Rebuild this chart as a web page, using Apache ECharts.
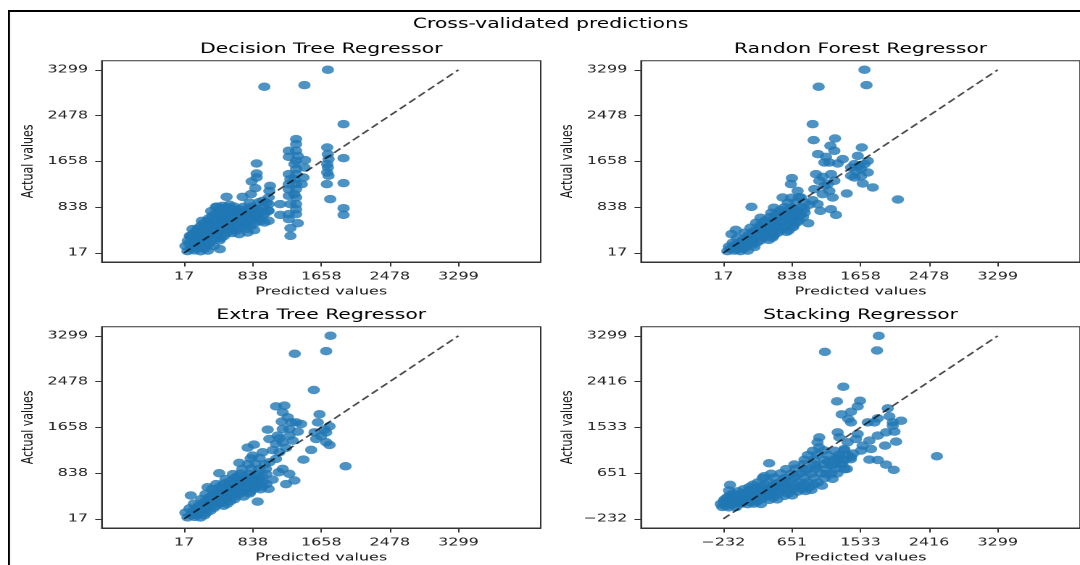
<!DOCTYPE html>
<html>
<head>
<meta charset="utf-8">
<script src="https://cdn.jsdelivr.net/npm/echarts@6/dist/echarts.min.js"></script>
<style>
html,body{margin:0;padding:0;background:#fff;overflow:hidden;width:1080px;height:565px;}
#chart{width:745px;height:565px;transform:scaleX(1.449664);transform-origin:0 0;}
</style>
</head>
<body>
<div id="chart"></div>
<script>
// ---------- text ----------
const suptitle = 'Cross-validated predictions';
const panelTitles = ['Decision Tree Regressor', 'Randon Forest Regressor', 'Extra Tree Regressor', 'Stacking Regressor'];
const xAxisName = 'Predicted values';
const yAxisName = 'Actual values';

// ---------- tick labels & axis limits ----------
const ticksCommon = [17, 838, 1658, 2478, 3299];
const ticksStacking = [-232, 651, 1533, 2416, 3299];
const xLimCommon = [-968, 4284];
const yLimCommon = [-147, 3463];
const xLimStacking = [-1291, 4358];
const yLimStacking = [-409, 3476];
const diagCommon = [17, 3299];
const diagStacking = [-232, 3299];

// ---------- data: [predicted, actual] ----------
const decisionTree = [
[1737,3300],[977,2995],[1457,3025],[1925,2325],[1925,1715],[1925,1267],[1925,818],[1925,699],
[1729,1907],[1737,1787],[1745,1697],[1729,1608],[1737,1548],[1729,1458],[1745,1399],[1725,1249],[1765,980],
[1357,2056],[1357,1967],[1357,1847],[1377,1757],[1357,1667],[1337,1608],[1357,1518],[1357,1428],[1337,1339],[1357,1249],[1357,1159],[1337,1070],[1357,1010],[1357,890],[1357,800],[1357,711],[1377,549],
[1269,1847],[1269,1739],[1269,1428],[1289,1339],[1269,1249],[1269,1159],[1269,1040],[1289,890],[1269,711],[1269,621],[1289,460],[1289,322],
[1165,890],[1165,699],[1465,1679],[1457,1548],[1445,1369],[1425,1249],
[885,1620],[885,1440],[885,1369],[825,1297],[869,1177],
[1045,1219],[1037,1129],[1029,1010],[1029,890],[1029,771],[1029,591],[957,950],
[525,1022],[717,1022],[817,1070],[229,591],[117,442],[85,322],[397,842],[477,860],[445,83],[677,352],[857,424],[977,561],[777,382],
[57,48],[139,61],[214,45],[301,58],
[33,140],[121,151],[196,133],[281,147],[372,139],
[62,236],[152,225],[241,238],[333,229],[441,241],
[95,318],[201,329],[292,315],[404,326],[493,318],
[161,405],[254,419],[362,408],[451,416],[560,404],[641,419],
[213,497],[322,508],[411,495],[521,506],[612,498],[722,509],[813,496],
[301,588],[392,597],[502,584],[591,595],[703,588],[792,598],[921,586],
[352,677],[461,688],[553,674],[662,685],[751,678],[861,689],[952,676],
[341,766],[433,777],[541,764],[632,775],[741,768],[833,779],[941,765],[1021,774],
[413,846],[522,837],[613,848],[721,839],[833,846],[961,838],
[801,917],[912,925],[1001,914],
[255,270],[455,280],[600,455],[770,550],[870,640],[680,720],[560,880],[470,620],
[97,95],[177,100],[257,92],
[77,190],[160,182],[240,193],[320,185],
[110,280],[200,272],[290,283],[385,275],
[130,365],[210,372],[305,362],[405,370],[505,364],[590,372],
[180,452],[270,460],[365,450],[465,458],[565,452],[665,461],[765,450],
[250,544],[350,552],[450,542],[550,550],[650,543],[750,551],[860,545],
[310,632],[410,640],[510,630],[610,638],[710,632],[810,640],[910,633],
[390,722],[490,730],[590,720],[690,728],[790,722],[890,730],[985,724],
[470,802],[570,810],[670,800],[780,808],[890,802]
];

const randomForest = [
[1705,3300],[1157,2995],[1729,3025],[1085,2325],[1097,2038],[1353,2068],[1297,1937],[1345,1847],[1149,1787],
[1245,1739],[1285,1637],[1385,1620],[1445,1697],[1225,1637],
[1673,1907],[1625,1757],[1745,1667],[1645,1578],[1745,1458],[1585,1369],[1685,1261],[1805,1189],[1545,1548],[1585,1608],[1705,1608],[1665,1518],
[1493,1081],[2105,974],[1365,699],[1305,800],[1177,770],[1145,890],
[1125,1428],[1165,1309],[1225,1219],[1305,1428],[1345,1309],[1285,1129],[1205,1070],[1325,1010],
[1033,549],[837,1357],[825,1249],[353,842],[165,430],[113,352],[773,394],[617,322],[985,800],[945,1010],[725,1010],[905,1129],
[65,49],[148,58],[221,47],[309,56],
[82,129],[188,121],[281,131],[389,122],
[128,198],[221,207],[329,196],[421,205],
[181,288],[309,297],[401,286],[509,295],[601,289],
[268,378],[361,387],[469,376],[561,386],[669,379],
[341,467],[449,476],[541,465],[649,474],[741,468],[849,477],
[409,557],[501,566],[609,555],[701,564],[809,558],[901,567],
[461,647],[569,656],[661,645],[769,654],[861,648],[969,657],
[589,737],[681,746],[789,735],[881,744],[989,738],
[621,826],[749,835],[841,824],[949,833],
[789,917],[881,925],[989,916],
[829,1006],[921,1014],
[1045,880],[1085,960],[1105,1160],[1205,1380],[1265,1250],[1545,1400],[1665,1390],[1605,1480],
[100,90],[185,85],[265,95],[160,165],[270,160],[370,168],[250,245],[360,250],[460,242],[560,250],
[320,335],[420,340],[520,332],[620,338],[400,420],[500,425],[600,418],[700,426],[800,420],
[460,512],[560,518],[660,510],[760,516],[860,511],[520,600],[620,606],[720,598],[820,604],[920,600],
[640,695],[740,700],[840,692],[940,698],[700,785],[800,790],[900,782]
];

const extraTree = [
[1769,3300],[1341,2978],[1717,3026],[1569,2327],[1117,2035],[1217,2047],[1197,1927],[1257,1838],[1297,1748],
[1185,1760],[1357,1748],[1417,1718],[1277,1629],[1197,1629],[1377,1581],
[1637,1892],[1617,1748],[1757,1677],[1717,1569],[1577,1569],[1597,1450],[1717,1390],[1757,1342],[1537,1253],
[1445,1080],[1949,960],[1337,704],[1277,823],[1149,853],[1197,913],[1029,554],[897,327],[1017,1617],[1037,1450],[853,1348],[777,1295],[957,1211],[837,1151],[677,1020],[437,835],[297,584],[97,435],
[1117,1360],[1197,1390],[1277,1510],[1137,1510],[1157,1211],[1117,1092],[1037,1032],[997,913],
[57,43],[141,52],[213,41],
[33,128],[121,119],[193,129],[281,121],
[81,204],[173,213],[281,203],[373,212],
[133,288],[241,297],[333,287],[441,296],[533,289],
[221,371],[313,380],[421,370],[513,379],[621,372],
[273,461],[381,470],[473,460],[581,469],[673,462],[801,471],
[353,550],[461,559],[553,549],[661,558],[753,551],[861,560],[933,549],
[401,640],[493,649],[601,639],[693,648],[801,641],[893,650],[1001,639],
[513,729],[621,738],[713,728],[821,737],[913,730],
[601,819],[693,828],[801,818],[893,827],[1001,820],
[713,909],[821,918],[913,908],
[781,998],[873,1007],[981,997],
[813,1100],[921,1109],
[1077,1250],[1237,1290],[1157,1460],[1317,1420],[1657,1500],[1697,1620],[1077,720],[1237,640],
[100,85],[180,90],[260,82],[130,165],[230,170],[330,162],[190,250],[290,255],[390,248],[490,253],
[270,333],[370,338],[470,330],[570,336],[330,418],[430,423],[530,415],[630,421],[730,417],
[410,505],[510,510],[610,502],[710,508],[810,504],[450,595],[550,600],[650,592],[750,598],[850,594],[950,600],
[560,685],[660,690],[760,682],[860,688],[960,684],[650,775],[750,780],[850,772],[950,778]
];

const stacking = [
[1768,3299],[1075,2991],[1746,3017],[1312,2317],[1230,2034],[1527,2047],[1497,1938],
[1411,1835],[1290,1784],[1376,1694],[1411,1630],
[1884,1899],[1905,1745],[1755,1707],[1712,1630],[1626,1630],
[2056,1662],[1948,1566],[1970,1450],[1862,1437],[1991,1258],[1849,1180],[1948,1630],
[1755,1373],[1647,1277],[1669,1116],[1540,1084],[1475,1309],[1497,1405],
[2516,975],[1647,911],[1755,904],[1862,814],[1961,712],
[1239,1437],[1260,1341],[1368,1245],[1325,1116],
[1002,1341],[980,1245],[1002,1148],
[357,840],[293,590],[-146,423],[-159,314],[1037,410],[903,327],[1359,731],[1239,924],[1282,827],[1411,956],[1153,795],[1088,635],[1174,538],
[-245,-3],[-162,-12],[-70,-5],
[-266,53],[-177,61],[-97,52],[-5,60],[81,51],[161,62],[253,54],
[-220,136],[-140,145],[-48,135],[53,144],[145,136],[247,146],[360,135],[462,143],
[-156,213],[-54,222],[81,212],[204,221],[317,213],[419,223],[554,212],[655,221],
[-48,297],[96,306],[231,296],[354,305],[468,298],[591,307],[726,296],[827,305],
[102,380],[247,389],[382,379],[505,388],[640,381],[763,390],[876,379],
[210,470],[354,479],[489,469],[612,478],[747,471],[849,480],[984,469],
[274,554],[419,563],[554,553],[677,562],[812,555],[935,564],[1070,553],
[382,637],[505,646],[640,636],[763,645],[898,638],[1021,647],[1156,636],[1236,645],
[575,727],[698,736],[833,726],[956,735],[1091,728],[1214,737],[1328,726],
[683,817],[806,826],[941,816],[1064,825],[1199,818],[1300,827],
[812,907],[935,916],[1070,906],[1193,915],[1328,908],[1408,917],
[855,997],[978,1006],[1113,996],[1257,1005],[1371,998],
[919,1080],[1064,1089],[1199,1079],[1322,1088],
[-200,20],[-110,100],[30,180],[150,260],[300,340],[440,430],[560,510],[700,600],[830,690],[960,780],[1120,870],[1260,960],[1440,1030],[1560,1180],
[-230,95],[-140,100],[-50,92],[40,100],[120,95],[200,102],
[-190,175],[-100,182],[0,176],[100,180],[200,175],[300,183],[410,177],
[-110,255],[20,262],[140,256],[260,261],[370,254],[490,263],[600,257],
[30,340],[170,346],[290,338],[420,345],[530,340],[660,347],[780,341],
[150,425],[300,433],[430,426],[560,432],[690,427],[810,434],[930,428]
];

// ---------- build ----------
const FONT = 'DejaVu Sans';
const panels = [
  {data: decisionTree, ticks: ticksCommon, xLim: xLimCommon, yLim: yLimCommon, diag: diagCommon},
  {data: randomForest, ticks: ticksCommon, xLim: xLimCommon, yLim: yLimCommon, diag: diagCommon},
  {data: extraTree, ticks: ticksCommon, xLim: xLimCommon, yLim: yLimCommon, diag: diagCommon},
  {data: stacking, ticks: ticksStacking, xLim: xLimStacking, yLim: yLimStacking, diag: diagStacking}
];
const gridLefts = [70.2, 442.2];
const gridTops = [60.7, 326.7];
const gridW = 302.8, gridH = 201.3;

const fmt = v => (v < 0 ? '\u2212' + Math.abs(v) : String(v));

const grids = [], xAxes = [], yAxes = [], series = [], graphics = [];
panels.forEach((p, i) => {
  const col = i % 2, row = Math.floor(i / 2);
  grids.push({left: gridLefts[col], top: gridTops[row], width: gridW, height: gridH,
    show: true, borderColor: '#333', borderWidth: 1, backgroundColor: '#fff', outerBoundsMode: 'none'});
  const common = {
    type: 'value', gridIndex: i,
    nameLocation: 'middle',
    nameTextStyle: {fontSize: 11, fontFamily: FONT, color: '#111'},
    axisLine: {show: true, onZero: false, lineStyle: {color: '#333', width: 1}},
    axisTick: {show: true, length: 4.5, customValues: p.ticks, lineStyle: {color: '#333'}},
    axisLabel: {customValues: p.ticks, fontSize: 11, fontFamily: FONT, color: '#222', formatter: fmt},
    splitLine: {show: false}
  };
  xAxes.push(Object.assign({}, common, {
    min: p.xLim[0], max: p.xLim[1], name: xAxisName, nameGap: 24,
    axisLabel: Object.assign({}, common.axisLabel, {margin: 9})
  }));
  yAxes.push(Object.assign({}, common, {
    min: p.yLim[0], max: p.yLim[1], name: yAxisName, nameGap: 45,
    axisLabel: Object.assign({}, common.axisLabel, {margin: 9.5})
  }));
  series.push({
    type: 'scatter', xAxisIndex: i, yAxisIndex: i, data: p.data,
    symbol: 'circle', symbolSize: 8.5,
    itemStyle: {color: '#1f77b4', opacity: 0.8},
    z: 2, silent: true
  });
  series.push({
    type: 'line', xAxisIndex: i, yAxisIndex: i,
    data: [[p.diag[0], p.diag[0]], [p.diag[1], p.diag[1]]],
    symbol: 'none', showSymbol: false,
    lineStyle: {color: '#000', opacity: 0.7, width: 1.5, type: [6, 3]},
    z: 3, silent: true
  });
  graphics.push({
    type: 'text', x: gridLefts[col] + gridW / 2, y: row === 0 ? 49.5 : 315.5,
    style: {text: panelTitles[i], fontSize: 14, fontFamily: FONT, fill: '#000', align: 'center', verticalAlign: 'middle'}
  });
});
graphics.push({
  type: 'text', x: 379.8, y: 24.5,
  style: {text: suptitle, fontSize: 14, fontFamily: FONT, fill: '#000', align: 'center', verticalAlign: 'middle'}
});
graphics.push({type: 'line', shape: {x1: 5.5, y1: 11, x2: 745, y2: 11}, style: {stroke: '#000', lineWidth: 2}});
graphics.push({type: 'line', shape: {x1: 6.2, y1: 10, x2: 6.2, y2: 565}, style: {stroke: '#000', lineWidth: 1.4}});

const chart = echarts.init(document.getElementById('chart'), null, {renderer: 'canvas', devicePixelRatio: 2, width: 745, height: 565});
chart.setOption({
  animation: false,
  backgroundColor: '#fff',
  grid: grids,
  xAxis: xAxes,
  yAxis: yAxes,
  series: series,
  graphic: graphics
});
</script>
</body>
</html>
